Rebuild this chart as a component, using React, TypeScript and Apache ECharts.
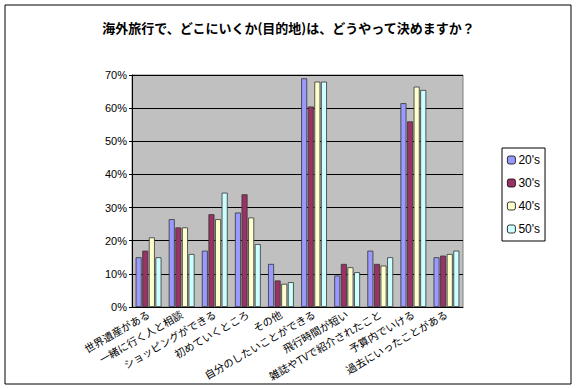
import React, { useEffect, useRef } from "react";
import * as echarts from "echarts";

const title = "海外旅行で、どこにいくか(目的地)は、どうやって決めますか？";
const categories = [
  "世界遺産がある",
  "一緒に行く人と相談",
  "ショッピングができる",
  "初めていくところ",
  "その他",
  "自分のしたいことができる",
  "飛行時間が短い",
  "雑誌やTVで紹介されたこと",
  "予算内でいける",
  "過去にいったことがある",
];
const seriesNames = ["20's", "30's", "40's", "50's"];
const s20 = [15, 26.5, 17, 28.5, 13, 69, 9.5, 17, 61.5, 15];
const s30 = [17, 24, 28, 34, 8, 60.5, 13, 13, 56, 15.5];
const s40 = [21, 24, 26.5, 27, 7, 68, 12, 12.5, 66.5, 16];
const s50 = [15, 16, 34.5, 19, 7.5, 68, 10.5, 15, 65.5, 17];
const colors = ["#9999FF", "#993366", "#FFFFCC", "#CCFFFF"];
const yTicks = [0, 10, 20, 30, 40, 50, 60, 70];

export default function App() {
  const ref = useRef<HTMLDivElement>(null);
  useEffect(() => {
    document.body.style.margin = "0";
    const chart = echarts.init(ref.current!, undefined, { renderer: "svg" });
    const font = "'Noto Sans CJK JP', 'Noto Sans', sans-serif";
    const data = [s20, s30, s40, s50];
    chart.setOption({
      animation: false,
      textStyle: { fontFamily: font },
      title: {
        text: title,
        left: "center",
        top: 16,
        textStyle: { fontSize: 13, fontWeight: "bold", color: "#000", fontFamily: font },
      },
      graphic: [
        {
          type: "rect",
          shape: { x: 5, y: 5, width: 566, height: 379 },
          style: { fill: "none", stroke: "#000", lineWidth: 1 },
          silent: true,
        },
      ],
      legend: {
        orient: "vertical",
        left: 502,
        top: 148,
        itemWidth: 8,
        itemHeight: 8,
        itemGap: 11,
        padding: [6, 5, 6, 5],
        borderColor: "#000",
        borderWidth: 1,
        textStyle: { fontSize: 12, color: "#000", fontFamily: "Arial, 'Liberation Sans', sans-serif", padding: [0, 0, 0, -2] },
        data: seriesNames.map((n) => ({ name: n, itemStyle: { borderColor: "#000", borderWidth: 0.8 } })),
      },
      grid: {
        left: 132,
        right: 114,
        top: 75,
        bottom: 82,
        show: true,
        backgroundColor: "#C0C0C0",
        borderColor: "#808080",
        borderWidth: 1,
      },
      xAxis: {
        type: "category",
        data: categories,
        axisLine: { lineStyle: { color: "#000" } },
        axisTick: { show: false },
        axisLabel: {
          rotate: 30,
          interval: 0,
          fontSize: 10.5,
          color: "#000",
          margin: 6,
        },
      },
      yAxis: {
        type: "value",
        min: 0,
        max: 70,
        interval: 10,
        axisLine: { show: true, lineStyle: { color: "#000" } },
        axisTick: { show: true, length: 3, lineStyle: { color: "#000" } },
        splitLine: { lineStyle: { color: "#000", width: 1 } },
        axisLabel: {
          formatter: (v: number) => (yTicks.includes(v) ? v + "%" : ""),
          fontSize: 11,
          color: "#000",
          fontFamily: "Arial, 'Liberation Sans', sans-serif",
          margin: 5,
        },
      },
      series: seriesNames.map((n, i) => ({
        name: n,
        type: "bar",
        data: data[i],
        barWidth: 6,
        barGap: "10%",
        itemStyle: { color: colors[i], borderColor: "#333", borderWidth: 0.8 },
      })),
    });
    return () => chart.dispose();
  }, []);
  return <div ref={ref} style={{ width: 577, height: 389, background: "#fff" }} />;
}
